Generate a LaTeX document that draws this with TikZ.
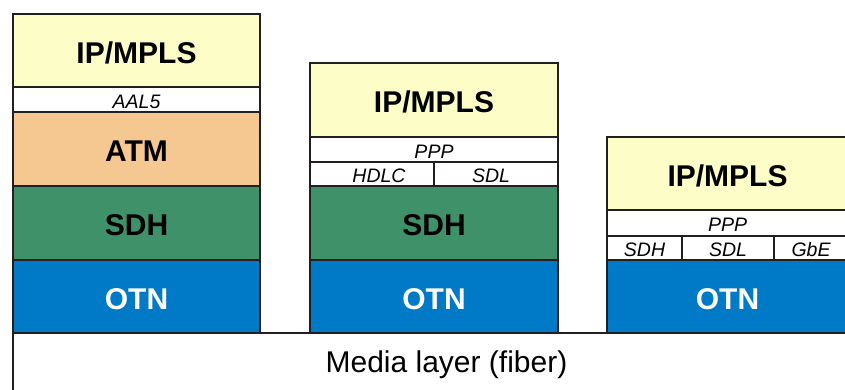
\documentclass[tikz,border=0pt]{standalone}
\usepackage{fontspec}
\setmainfont{Liberation Sans}
\definecolor{ipc}{HTML}{FDFDC8}
\definecolor{atmc}{HTML}{F5C791}
\definecolor{sdhc}{HTML}{3F916A}
\definecolor{otnc}{HTML}{0079C6}
\definecolor{linec}{HTML}{231F20}
\tikzset{
  layer/.style={draw=linec, line width=2pt, inner sep=0pt, outer sep=0pt, anchor=north west},
  big/.style={font=\fontsize{30}{36}\selectfont\bfseries, text height=25.5pt, text depth=0pt},
  small/.style={font=\fontsize{19.5}{22}\selectfont\itshape, text height=17.4pt, text depth=0pt},
}
\begin{document}
\begin{tikzpicture}[x=1pt,y=-1pt]
\useasboundingbox (0,0) rectangle (845,389);
\clip (0,0) rectangle (845,389);
% media layer
\node[layer, fill=white, minimum width=900pt, minimum height=100pt] (media) at (13,333) {};
\node[font=\fontsize{30}{36}\selectfont, anchor=base] (mediatxt) at (446.5,372) {Media layer (fiber)};
% column 1
\node[layer, big, fill=ipc, minimum width=247pt, minimum height=73pt] (ip1) at (13,14) {IP/MPLS};
\node[layer, small, fill=white, minimum width=247pt, minimum height=25pt] (aal1) at (13,87) {AAL5};
\node[layer, big, fill=atmc, minimum width=247pt, minimum height=74pt] (atm1) at (13,112) {ATM};
\node[layer, big, fill=sdhc, minimum width=247pt, minimum height=74pt] (sdh1) at (13,186) {SDH};
\node[layer, big, fill=otnc, text=white, minimum width=247pt, minimum height=73pt] (otn1) at (13,260) {OTN};
% column 2
\node[layer, big, fill=ipc, minimum width=248pt, minimum height=74pt] (ip2) at (310,63) {IP/MPLS};
\node[layer, small, fill=white, minimum width=248pt, minimum height=25pt] (ppp2) at (310,137) {PPP};
\node[layer, small, fill=white, minimum width=124pt, minimum height=24pt] (hdlc2) at (310,162) {\hspace*{14pt}HDLC};
\node[layer, small, fill=white, minimum width=124pt, minimum height=24pt] (sdl2) at (434,162) {SDL\hspace*{10pt}};
\node[layer, big, fill=sdhc, minimum width=248pt, minimum height=74pt] (sdh2) at (310,186) {SDH};
\node[layer, big, fill=otnc, text=white, minimum width=248pt, minimum height=73pt] (otn2) at (310,260) {OTN};
% column 3
\node[layer, big, fill=ipc, minimum width=241pt, minimum height=73pt] (ip3) at (607,137) {IP/MPLS};
\node[layer, small, fill=white, minimum width=241pt, minimum height=26pt] (ppp3) at (607,210) {PPP};
\node[layer, small, fill=white, minimum width=75pt, minimum height=24pt] (sdh3) at (607,236) {SDH};
\node[layer, small, fill=white, minimum width=92pt, minimum height=24pt] (sdl3) at (682,236) {SDL};
\node[layer, small, fill=white, minimum width=74pt, minimum height=24pt] (gbe3) at (774,236) {GbE};
\node[layer, big, fill=otnc, text=white, minimum width=241pt, minimum height=73pt] (otn3) at (607,260) {OTN};
\end{tikzpicture}
\end{document}
